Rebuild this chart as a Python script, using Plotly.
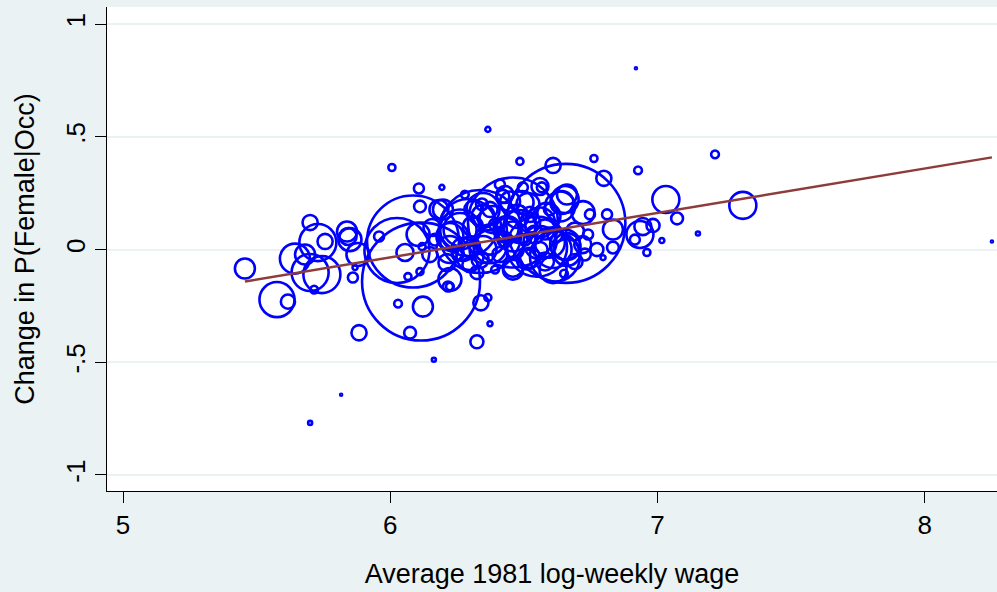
import plotly.graph_objects as go

# Occupation-level data: average 1981 log weekly wage, change in P(Female|Occ), weight
wage = [5.456, 5.576, 5.617, 5.700, 5.643, 5.700, 5.744, 5.729, 5.756, 5.715,
        5.838, 5.842, 5.879, 5.860, 5.868, 5.883, 5.681, 5.849, 5.958, 5.700,
        5.816,
        6.115, 6.025, 6.085, 6.291, 6.006, 6.107, 6.193, 6.111, 6.182, 6.055,
        6.104, 6.119, 6.111, 6.066, 6.156, 6.223, 6.223, 6.029, 6.122, 6.074,
        6.339, 6.365, 6.373, 6.324, 6.163, 6.235, 6.272, 6.309, 6.347, 6.365,
        6.197, 6.309, 6.347, 6.261, 6.223, 6.373, 6.437, 6.485, 6.560, 6.597,
        6.661, 6.298, 6.212, 6.336, 6.459, 6.392, 6.650, 6.216, 6.336, 6.459,
        6.549, 6.657, 6.485, 6.609, 6.567, 6.421, 6.496, 6.448, 6.515, 6.642,
        6.762, 6.799, 6.927, 7.215, 7.031, 7.319, 7.073, 7.151, 6.934, 6.960,
        7.016, 6.983, 6.945, 6.915, 6.833, 6.811, 6.747, 6.740, 6.773, 6.833,
        6.796, 6.654, 6.616, 6.654, 6.635, 6.919, 8.251, 6.720,
        6.410, 6.466, 6.523, 6.560, 6.579, 6.504, 6.429, 6.392, 6.541, 6.616,
        6.691, 6.728, 6.691, 6.253, 6.298, 6.148, 6.167, 6.373, 6.410, 6.343,
        6.279, 6.523, 6.597, 6.579,
        6.429, 6.560, 6.493, 6.661, 6.721, 6.347, 6.261, 6.373, 6.459, 6.560,
        6.609, 6.661, 6.511, 6.459, 6.298, 6.223, 6.324, 6.384, 6.474, 6.586,
        6.437, 6.523, 6.609]

dfemale = [-0.084, -0.222, -0.231, 0.120, -0.040, -0.102, -0.111, 0.031, 0.036, -0.178,
           0.080, 0.058, -0.022, -0.124, -0.080, -0.369, -0.022, 0.044, 0.058, -0.769,
           -0.644,
           -0.142, -0.004, 0.036, 0.098, 0.364, 0.271, 0.276, 0.191, 0.178, -0.013,
           0.067, 0.013, -0.098, -0.120, 0.098, -0.133, -0.164, -0.240, -0.253, -0.369,
           -0.236, -0.213, -0.329, -0.409, -0.489, 0.058, 0.000, 0.102, 0.000, 0.533,
           0.178, 0.178, 0.147, 0.089, 0.058, 0.044, 0.089, 0.102, 0.120, 0.031,
           0.013, 0.013, -0.058, -0.044, -0.076, -0.089, -0.107, -0.164, 0.080, 0.120,
           0.013, 0.116, 0.391, 0.373, 0.276, 0.236, 0.276, 0.213, 0.200, 0.209,
           0.404, 0.316, 0.351, 0.422, 0.222, 0.196, 0.138, 0.071, 0.067, -0.013,
           0.040, 0.107, 0.102, 0.044, 0.089, 0.156, 0.156, 0.067, 0.000, 0.009,
           -0.036, 0.022, -0.031, 0.222, 0.191, 0.804, 0.036, 0.022,
           -0.022, 0.000, -0.036, 0.000, -0.053, 0.044, 0.044, 0.111, 0.067, 0.067,
           0.080, -0.022, -0.053, -0.022, -0.067, -0.022, 0.044, 0.178, 0.289, 0.200,
           0.244, 0.156, 0.178, 0.089,
           0.244, 0.280, 0.209, 0.244, 0.164, 0.178, 0.089, 0.013, 0.058, 0.031,
           0.000, -0.013, -0.044, -0.089, -0.031, 0.000, -0.102, 0.133, 0.147, 0.147,
           0.089, 0.120, -0.089]

weight = [4.0, 12.3, 2.0, 2.3, 9.0, 13.7, 13.7, 13.7, 2.3, 0.6,
          4.0, 2.9, 5.3, 1.0, 0.25, 2.3, 4.0, 5.3, 1.0, 0.16,
          0.04,
          139.2, 42.3, 84.6, 32.5, 0.5, 1.0, 0.25, 1.4, 3.6, 2.9,
          5.3, 0.5, 0.5, 0.5, 2.9, 5.3, 0.6, 0.6, 4.0, 1.4,
          2.3, 0.5, 0.25, 1.7, 0.16, 9.0, 5.3, 4.0, 7.3, 0.25,
          4.0, 2.9, 5.3, 10.9, 7.3, 9.0, 7.3, 10.9, 9.0, 9.0,
          7.3, 4.0, 2.9, 2.9, 4.0, 0.6, 0.6, 1.0, 68.9, 81.0,
          36.0, 141.6, 0.5, 2.3, 1.0, 1.7, 1.0, 4.0, 5.3, 5.3,
          0.5, 2.3, 0.6, 0.6, 7.3, 7.3, 1.4, 0.16, 7.3, 0.5,
          0.25, 1.7, 2.9, 1.0, 4.0, 1.0, 1.0, 1.0, 1.7, 1.4,
          0.25, 9.0, 25.0, 7.3, 9.0, 0.04, 0.04, 2.9,
          2.3, 3.2, 4.0, 2.3, 3.2, 1.4, 2.3, 1.4, 3.2, 2.3,
          3.2, 1.4, 2.3, 1.4, 2.3, 2.3, 1.4, 2.3, 1.0, 1.4,
          0.6, 2.3, 1.4, 4.0,
          2.9, 2.9, 5.3, 4.0, 5.3, 10.9, 16.0, 10.9, 9.0, 10.9,
          13.7, 7.3, 4.0, 4.0, 7.3, 7.3, 1.7, 7.3, 5.3, 7.3,
          5.3, 4.0, 7.3]

# Weighted linear fit (fitted values at the ends of the wage range)
fit_x = [5.456, 8.251]
fit_y = [-0.142, 0.409]

x_ticks = [5, 6, 7, 8]
y_ticks = [-1, -0.5, 0, 0.5, 1]
y_ticklabels = ["-1", "-.5", "0", ".5", "1"]

BG = "#EAF2F3"
FONT = "Liberation Sans, Arial, sans-serif"

fig = go.Figure()
fig.add_trace(go.Scatter(
    x=wage, y=dfemale, mode="markers",
    marker=dict(symbol="circle-open", size=weight, sizemode="area", sizeref=0.02,
                sizemin=1, color="#0000FF", opacity=1,
                line=dict(width=2.6, color="#0000FF")),
    showlegend=False, hoverinfo="x+y"))
fig.add_trace(go.Scatter(
    x=fit_x, y=fit_y, mode="lines",
    line=dict(color="#8E3B3B", width=2.5), showlegend=False))

fig.update_layout(
    width=997, height=592,
    margin=dict(l=107, r=0, t=7, b=101),
    paper_bgcolor=BG, plot_bgcolor="white",
    font=dict(family=FONT, size=26, color="#000000"),
    xaxis=dict(range=[4.94, 8.27], tickvals=x_ticks, showgrid=False, zeroline=False,
               showline=True, linecolor="#000000", linewidth=1, mirror=False,
               ticks="outside", ticklen=11, tickcolor="#000000", tickwidth=1,
               tickfont=dict(size=26),
               title=dict(text="Average 1981 log-weekly wage", font=dict(size=27), standoff=24)),
    yaxis=dict(range=[-1.071, 1.076], tickvals=y_ticks, ticktext=y_ticklabels,
               tickangle=-90, showgrid=True, gridcolor=BG, gridwidth=2, zeroline=False,
               showline=True, linecolor="#000000", linewidth=1,
               ticks="outside", ticklen=11, tickcolor="#000000", tickwidth=1,
               tickfont=dict(size=26),
               title=dict(text="Change in P(Female|Occ)", font=dict(size=27), standoff=18)),
)

fig.write_html("out.html", config={"displayModeBar": False},
               post_script="document.body.style.margin='0';document.body.style.background='#EAF2F3';")
